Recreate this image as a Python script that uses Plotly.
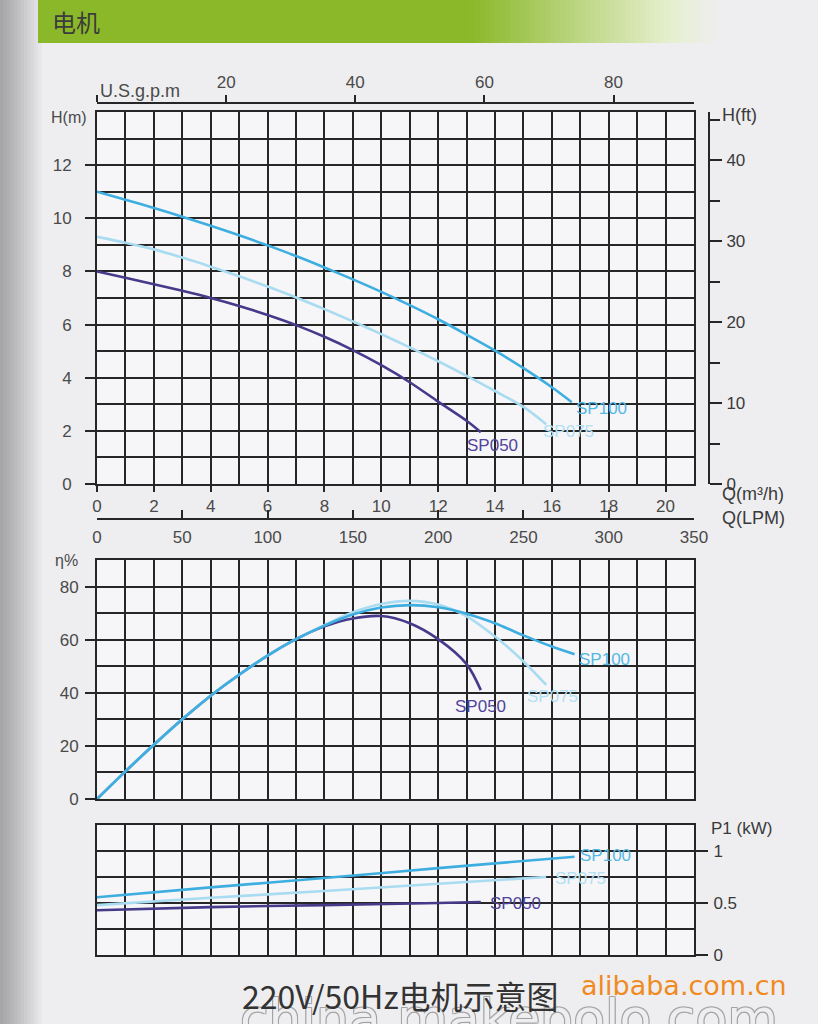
import plotly.graph_objects as go

W, H = 818, 1024

# ---------------- data ----------------
series_names = ["SP100", "SP075", "SP050"]

# Head H(m) vs Q(m3/h)
q_head_sp100 = [0, 1, 2, 3, 4, 5, 6, 7, 8, 9, 10, 11, 12, 13, 14, 15, 16, 16.7]
h_sp100 = [11.0, 10.7, 10.39, 10.06, 9.72, 9.36, 8.98, 8.58, 8.15, 7.7, 7.23, 6.73, 6.2, 5.62, 5.02, 4.36, 3.64, 3.08]
q_head_sp075 = [0, 1, 2, 3, 4, 5, 6, 7, 8, 9, 10, 11, 12, 13, 14, 15, 15.8]
h_sp075 = [9.3, 9.08, 8.83, 8.52, 8.18, 7.82, 7.43, 7.02, 6.58, 6.12, 5.64, 5.14, 4.62, 4.07, 3.5, 2.9, 2.25]
q_head_sp050 = [0, 1, 2, 3, 4, 5, 6, 7, 8, 9, 10, 11, 12, 13, 13.5]
h_sp050 = [8.0, 7.76, 7.52, 7.27, 7.0, 6.7, 6.36, 5.98, 5.54, 5.04, 4.47, 3.83, 3.1, 2.38, 1.95]

# Efficiency eta(%) vs Q
q_eff_sp100 = [0, 1, 2, 3, 4, 5, 6, 7, 8, 9, 10, 11, 12, 13, 14, 15, 16, 16.8]
eff_sp100 = [0, 10.4, 20.4, 30.0, 38.9, 46.8, 54.0, 60.2, 65.3, 69.5, 72.1, 73.0, 72.2, 69.8, 66.2, 61.6, 57.4, 54.5]
q_eff_sp075 = [0, 1, 2, 3, 4, 5, 6, 7, 8, 9, 10, 11, 12, 13, 14, 15, 15.8]
eff_sp075 = [0, 10.4, 20.4, 30.0, 38.9, 46.8, 54.0, 60.2, 65.5, 70.3, 73.4, 74.6, 73.2, 68.8, 61.2, 51.8, 43.0]
q_eff_sp050 = [0, 1, 2, 3, 4, 5, 6, 7, 8, 9, 10, 11, 12, 13, 13.5]
eff_sp050 = [0, 10.4, 20.4, 30.0, 38.9, 46.8, 54.0, 60.2, 65.0, 68.0, 68.9, 66.2, 60.2, 50.8, 41.0]

# Input power P1(kW) vs Q
q_pow_sp100 = [0, 4, 8, 12, 16.8]
pow_sp100 = [0.555, 0.65, 0.74, 0.835, 0.945]
q_pow_sp075 = [0, 4, 8, 12, 15.8]
pow_sp075 = [0.48, 0.55, 0.615, 0.685, 0.75]
q_pow_sp050 = [0, 4, 8, 12, 13.5]
pow_sp050 = [0.43, 0.46, 0.48, 0.50, 0.51]

# axis scales
q_m3h_ticks = [0, 2, 4, 6, 8, 10, 12, 14, 16, 18, 20]
q_lpm_ticks = [0, 50, 100, 150, 200, 250, 300, 350]
gpm_ticks = [0, 20, 40, 60, 80]
gpm_labels = ["", "20", "40", "60", "80"]
head_m_ticks = [0, 2, 4, 6, 8, 10, 12]
head_ft_ticks = [0, 10, 20, 30, 40]
eff_ticks = [0, 20, 40, 60, 80]
pow_ticks = [0, 0.5, 1]
Q_MAX = 21
H_MAX = 14
GPM_PER_M3H = 4.40287
FT_PER_M = 3.28084

# ---------------- style ----------------
colors = {"SP100": "#3eaee0", "SP075": "#a9dbf1", "SP050": "#463a8a"}
label_colors = {"SP100": "#55b8e4", "SP075": "#b3e0f2", "SP050": "#51449a"}
GRID = "#262626"
TXT = "#4a4a4a"
FONT = "Liberation Sans, Arial, sans-serif"


def px(x):
    return x / W


def py(y):
    return 1 - y / H


xdom = [px(97), px(694)]
dom1 = [py(484), py(112)]
dom2 = [py(799), py(560)]
dom3 = [py(955), py(825)]

fig = go.Figure()

head = {"SP100": (q_head_sp100, h_sp100), "SP075": (q_head_sp075, h_sp075), "SP050": (q_head_sp050, h_sp050)}
eff = {"SP100": (q_eff_sp100, eff_sp100), "SP075": (q_eff_sp075, eff_sp075), "SP050": (q_eff_sp050, eff_sp050)}
pw = {"SP100": (q_pow_sp100, pow_sp100), "SP075": (q_pow_sp075, pow_sp075), "SP050": (q_pow_sp050, pow_sp050)}

order = ["SP050", "SP075", "SP100"]
for (data, xa, ya) in ((head, "x", "y"), (eff, "x2", "y2"), (pw, "x3", "y3")):
    for name in order:
        q, v = data[name]
        fig.add_trace(go.Scatter(x=q, y=v, xaxis=xa, yaxis=ya, mode="lines",
                                 line=dict(color=colors[name], width=2.6, shape="spline", smoothing=0.9),
                                 name=name, showlegend=False, hoverinfo="skip"))

# dummy traces so overlaying unit axes are drawn
fig.add_trace(go.Scatter(x=[None], y=[None], xaxis="x4", yaxis="y", showlegend=False, hoverinfo="skip"))
fig.add_trace(go.Scatter(x=[None], y=[None], xaxis="x5", yaxis="y", showlegend=False, hoverinfo="skip"))
fig.add_trace(go.Scatter(x=[None], y=[None], xaxis="x", yaxis="y4", showlegend=False, hoverinfo="skip"))

tickfont = dict(family=FONT, size=17, color=TXT)
rtickfont = dict(family=FONT, size=17, color="#3a3a3a")
common_x = dict(range=[0, Q_MAX], showline=True, mirror=True, linecolor=GRID, linewidth=2,
                showgrid=True, gridcolor=GRID, gridwidth=1.6, zeroline=False, fixedrange=True,
                automargin=False)
common_y = dict(showline=True, mirror=True, linecolor=GRID, linewidth=2,
                showgrid=True, gridcolor=GRID, gridwidth=1.6, zeroline=False, fixedrange=True,
                automargin=False)

fig.update_layout(
    width=W, height=H, autosize=False,
    margin=dict(l=0, r=0, t=0, b=0, pad=0, autoexpand=False),
    paper_bgcolor="#eeeef0", plot_bgcolor="#f6f6f8",
    showlegend=False,
    xaxis=dict(domain=xdom, anchor="y", tickvals=q_m3h_ticks, ticks="outside", ticklen=6,
               tickwidth=1.6, tickcolor=GRID, tickfont=tickfont, ticklabelstandoff=0,
               minor=dict(dtick=1, tick0=0, showgrid=True, gridcolor=GRID, gridwidth=1.6), **common_x),
    yaxis=dict(domain=dom1, anchor="x", range=[0, H_MAX], tickvals=head_m_ticks, ticks="outside",
               ticklen=10, tickwidth=1.6, tickcolor=GRID, tickfont=tickfont, ticklabelstandoff=10,
               minor=dict(dtick=1, tick0=0, showgrid=True, gridcolor=GRID, gridwidth=1.6), **common_y),
    xaxis2=dict(domain=xdom, anchor="y2", dtick=1, tick0=0, showticklabels=False, ticks="", **common_x),
    yaxis2=dict(domain=dom2, anchor="x2", range=[0, 90], tickvals=eff_ticks, ticks="outside",
                ticklen=10, tickwidth=1.6, tickcolor=GRID, tickfont=tickfont, ticklabelstandoff=3,
                minor=dict(dtick=10, tick0=0, showgrid=True, gridcolor=GRID, gridwidth=1.6), **common_y),
    xaxis3=dict(domain=xdom, anchor="y3", dtick=1, tick0=0, showticklabels=False, ticks="", **common_x),
    yaxis3=dict(domain=dom3, anchor="x3", side="right", range=[0, 1.25], tickvals=pow_ticks,
                ticks="outside", ticklen=12, tickwidth=1.6, tickcolor=GRID,
                tickfont=rtickfont, ticklabelstandoff=2,
                minor=dict(dtick=0.25, tick0=0, showgrid=True, gridcolor=GRID, gridwidth=1.6), **common_y),
    xaxis4=dict(overlaying="x", anchor="free", position=py(103), side="top",
                range=[0, Q_MAX * GPM_PER_M3H], tickvals=gpm_ticks, ticktext=gpm_labels,
                ticks="outside", ticklen=7, tickwidth=1.6, tickcolor=GRID, tickfont=tickfont,
                showline=True, linecolor=GRID, linewidth=2, showgrid=False, zeroline=False,
                fixedrange=True, automargin=False),
    xaxis5=dict(overlaying="x", anchor="free", position=py(519), side="bottom",
                range=[0, Q_MAX * 1000 / 60], tickvals=q_lpm_ticks,
                ticks="inside", ticklen=8, tickwidth=1.6, tickcolor=GRID, tickfont=tickfont,
                ticklabelstandoff=3,
                showline=True, linecolor=GRID, linewidth=2, showgrid=False, zeroline=False,
                fixedrange=True, automargin=False),
    yaxis4=dict(overlaying="y", anchor="free", position=px(709), side="right",
                range=[0, H_MAX * FT_PER_M], tickvals=head_ft_ticks,
                ticks="outside", ticklen=12, tickwidth=1.6, tickcolor=GRID,
                tickfont=rtickfont, ticklabelstandoff=1,
                minor=dict(dtick=5, tick0=0, ticks="outside", ticklen=10, tickwidth=1.6, tickcolor=GRID),
                showline=True, linecolor=GRID, linewidth=2, showgrid=False, zeroline=False,
                fixedrange=True, automargin=False),
)

shapes = []
# left page shadow
for i in range(12):
    shapes.append(dict(type="rect", xref="paper", yref="paper", x0=0, x1=px(3 + i * 3.5), y0=0, y1=1,
                       fillcolor="#000000", opacity=0.028, line=dict(width=0), layer="below"))


# green header gradient strips
def lerp(c1, c2, t):
    return tuple(int(round(a + (b - a) * t)) for a, b in zip(c1, c2))


g0 = (138, 184, 40)
g1 = (230, 239, 206)
g2 = (238, 238, 240)
x_start, x_solid, x_mid, x_end = 38, 470, 670, 720
steps = 40
shapes.append(dict(type="rect", xref="paper", yref="paper", x0=px(x_start), x1=px(x_solid),
                   y0=py(43), y1=1, fillcolor="rgb%s" % (g0,), line=dict(width=0), layer="below"))
for i in range(steps):
    a = x_solid + (x_mid - x_solid) * i / steps
    b = x_solid + (x_mid - x_solid) * (i + 1) / steps + 0.5
    c = lerp(g0, g1, (i + 0.5) / steps)
    shapes.append(dict(type="rect", xref="paper", yref="paper", x0=px(a), x1=px(b),
                       y0=py(43), y1=1, fillcolor="rgb%s" % (c,), line=dict(width=0), layer="below"))
for i in range(10):
    a = x_mid + (x_end - x_mid) * i / 10
    b = x_mid + (x_end - x_mid) * (i + 1) / 10 + 0.5
    c = lerp(g1, g2, (i + 0.5) / 10)
    shapes.append(dict(type="rect", xref="paper", yref="paper", x0=px(a), x1=px(b),
                       y0=py(43), y1=1, fillcolor="rgb%s" % (c,), line=dict(width=0), layer="below"))
fig.update_layout(shapes=shapes)

ann = []


def text(x, y, s, size=14, color=TXT, xanchor="left", family=FONT, yanchor="middle", **kw):
    ann.append(dict(x=px(x), y=py(y), xref="paper", yref="paper", text=s, showarrow=False,
                    xanchor=xanchor, yanchor=yanchor, borderpad=0,
                    font=dict(family=family, size=size, color=color, **kw)))


text(51, 21, "电机", size=24, color="#3c3c3c", family="Noto Sans CJK SC")
text(99, 91, "U.S.g.p.m", size=18)
text(50, 117, "H(m)", size=16)
text(721, 115, "H(ft)", size=18, color="#3a3a3a")
text(721, 494, "Q(m³/h)", size=18, color="#3a3a3a")
text(721, 518, "Q(LPM)", size=18, color="#3a3a3a")
text(54, 560, "η%", size=16)
text(710, 828, "P1 (kW)", size=17, color="#3a3a3a")

# series labels at curve ends
label_shift = {
    "y": {"SP100": (2, -6), "SP075": (-5, -7), "SP050": (-16, -13)},
    "y2": {"SP100": (2, -5), "SP075": (-21, -12), "SP050": (-28, -16)},
    "y3": {"SP100": (3, 1), "SP075": (7, -1), "SP050": (7, -2)},
}
for yax, data, xax in (("y", head, "x"), ("y2", eff, "x2"), ("y3", pw, "x3")):
    for name in series_names:
        q, v = data[name]
        ann.append(dict(x=q[-1], y=v[-1], xref=xax, yref=yax, text=name, showarrow=False,
                        xanchor="left", yanchor="middle",
                        xshift=label_shift[yax][name][0], yshift=label_shift[yax][name][1],
                        font=dict(family=FONT, size=17, color=label_colors[name])))

# bottom caption and watermarks
ann.append(dict(x=px(238), y=py(1018), xref="paper", yref="paper", text="china.makepolo.com",
                showarrow=False, xanchor="left", yanchor="middle",
                font=dict(family="DejaVu Sans", size=52, color="rgba(246,246,248,0.9)",
                          shadow="1px 1px 0 #a0a0a0, -1px -1px 0 #a0a0a0, 1px -1px 0 #a0a0a0, -1px 1px 0 #a0a0a0")))
text(400, 995, "220V/50Hz电机示意图", size=32, color="#333333", xanchor="center",
     family="Noto Sans CJK SC")
text(580, 985, "alibaba.com.cn", size=27, color="#f08a22", family="DejaVu Sans")

fig.update_layout(annotations=ann)

fig.write_html("out.html", include_plotlyjs=True, config={"displayModeBar": False},
               post_script="document.body.style.margin='0';")
